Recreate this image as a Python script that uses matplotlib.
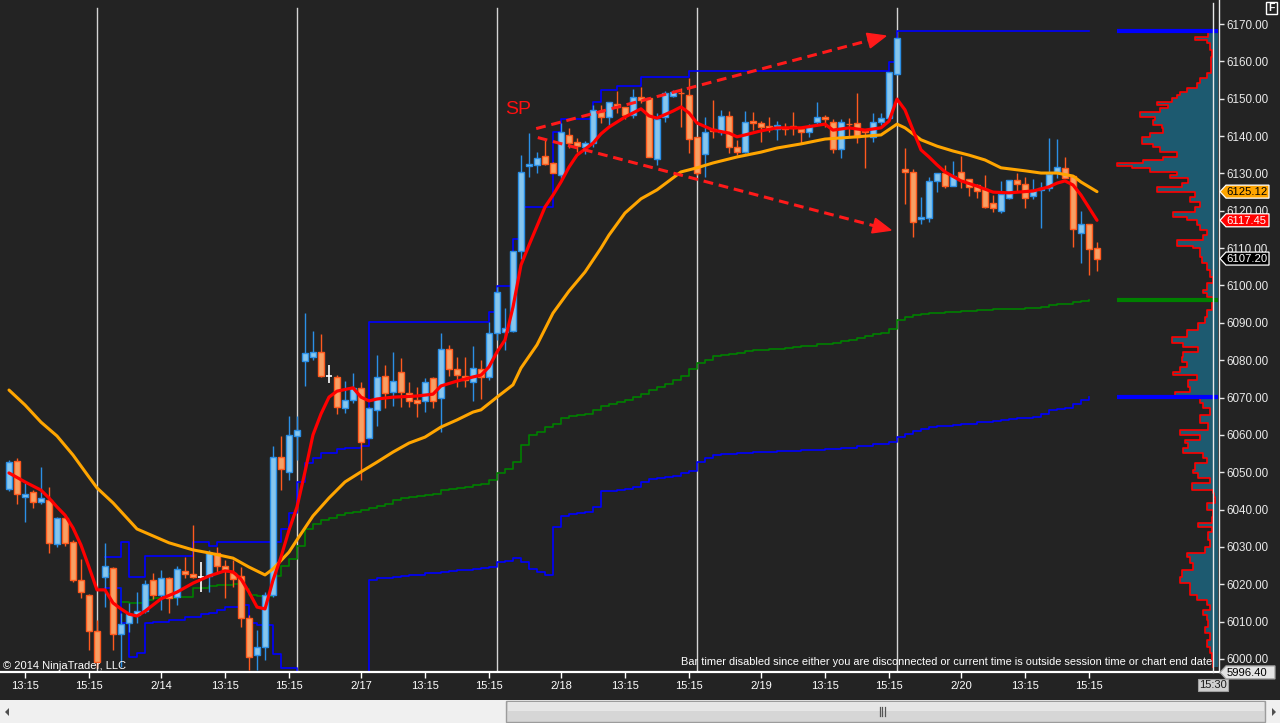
import numpy as np
import matplotlib
matplotlib.use('Agg')
import matplotlib.pyplot as plt
from matplotlib.patches import Polygon, Rectangle
from matplotlib.transforms import IdentityTransform

plt.rcParams['font.family'] = ['Liberation Sans', 'DejaVu Sans']

# ---------------- data ----------------
bars = list(range(-11, 126))
opens = [6045.4, 6053.1, 6043.3, 6044.8, 6041.9, 6042.6, 6030.7, 6037.7, 6031.2, 6021.1, 6017.1, 6007.6,
         6022.0, 6024.3, 6006.7, 6009.5, 6011.8, 6012.9, 6021.1, 6017.1, 6021.6, 6016.7, 6023.5, 6022.7,
         6022.0, 6022.2, 6028.3, 6025.0, 6023.1, 6022.2, 6010.9, 6001.1, 6003.1, 6017.1, 6054.0, 6050.1,
         6059.8, 6079.8, 6080.8, 6082.3, 6075.8, 6075.6, 6067.1, 6069.3, 6072.5, 6059.1, 6066.7, 6075.8,
         6071.6, 6076.9, 6071.3, 6069.3, 6069.1, 6075.1, 6069.8, 6082.9, 6077.6, 6075.8, 6074.1, 6077.6,
         6075.4, 6087.2, 6087.6, 6087.9, 6109.2, 6131.9, 6132.2, 6134.7, 6132.7, 6129.6, 6140.3, 6138.3,
         6137.0, 6138.1, 6146.5, 6145.0, 6148.6, 6147.7, 6145.6, 6150.5, 6150.1, 6133.8, 6145.0, 6150.7,
         6151.5, 6151.0, 6139.7, 6135.1, 6141.8, 6141.0, 6145.4, 6137.0, 6135.8, 6144.0, 6143.4, 6142.7,
         6141.9, 6142.1, 6142.7, 6141.9, 6141.0, 6143.8, 6145.0, 6143.7, 6136.5, 6143.2, 6143.4, 6141.4,
         6139.8, 6143.7, 6144.9, 6156.5, 6131.1, 6130.5, 6117.7, 6118.0, 6128.0, 6130.0, 6126.7, 6130.5,
         6128.4, 6126.9, 6125.8, 6122.0, 6120.0, 6123.5, 6128.2, 6127.3, 6124.0, 6125.6, 6126.0, 6130.3,
         6131.4, 6129.3, 6114.0, 6116.4, 6110.0]
highs = [6053.3, 6053.7, 6047.0, 6045.2, 6051.3, 6046.1, 6038.1, 6038.1, 6031.8, 6026.7, 6017.4, 6010.4,
         6031.0, 6024.7, 6012.2, 6014.9, 6018.0, 6021.1, 6023.1, 6023.8, 6022.0, 6024.9, 6027.4, 6036.0,
         6026.0, 6029.2, 6030.1, 6026.5, 6026.5, 6024.7, 6011.8, 6007.7, 6018.0, 6057.0, 6059.7, 6065.0,
         6065.0, 6092.5, 6087.8, 6086.9, 6078.7, 6076.0, 6074.4, 6076.6, 6074.2, 6067.5, 6081.4, 6078.7,
         6082.1, 6080.5, 6074.2, 6072.7, 6075.1, 6075.6, 6087.2, 6084.1, 6080.8, 6080.8, 6083.8, 6080.0,
         6090.3, 6099.7, 6093.9, 6109.2, 6134.9, 6140.7, 6135.6, 6138.9, 6133.1, 6143.4, 6142.1, 6139.4,
         6138.8, 6148.3, 6148.3, 6149.2, 6152.1, 6147.9, 6152.5, 6153.2, 6150.3, 6146.1, 6152.1, 6152.3,
         6152.8, 6155.5, 6139.8, 6145.2, 6149.7, 6147.0, 6146.7, 6138.9, 6146.7, 6146.4, 6144.0, 6145.0,
         6144.0, 6143.4, 6146.4, 6142.5, 6143.1, 6149.0, 6145.6, 6144.6, 6144.6, 6144.9, 6151.4, 6141.4,
         6146.1, 6146.1, 6157.1, 6166.3, 6136.7, 6131.2, 6123.6, 6129.1, 6130.0, 6132.2, 6133.3, 6134.7,
         6128.4, 6127.3, 6129.6, 6124.2, 6128.0, 6128.2, 6130.0, 6129.0, 6128.5, 6127.6, 6139.4, 6139.2,
         6134.3, 6129.6, 6119.9, 6116.4, 6111.7]
lows = [6045.0, 6041.4, 6036.8, 6040.3, 6041.4, 6028.3, 6030.1, 6030.2, 6020.7, 6016.2, 6002.4, 5997.6,
        6014.0, 6002.4, 5997.9, 6007.2, 6009.5, 6012.2, 6016.0, 6013.1, 6012.4, 6014.4, 6021.6, 6021.6,
        6018.0, 6018.0, 6023.4, 6016.2, 6019.3, 6008.6, 5997.0, 5997.0, 5999.7, 6016.7, 6045.2, 6047.9,
        6053.3, 6073.1, 6080.0, 6075.4, 6074.0, 6065.5, 6065.8, 6068.4, 6047.9, 6059.1, 6062.4, 6067.1,
        6067.7, 6067.5, 6067.5, 6064.9, 6066.2, 6067.1, 6060.8, 6075.8, 6072.7, 6072.7, 6069.1, 6069.5,
        6074.7, 6085.4, 6082.7, 6087.5, 6107.0, 6129.1, 6130.2, 6132.2, 6130.0, 6128.2, 6136.7, 6135.8,
        6135.2, 6137.1, 6143.6, 6143.0, 6146.1, 6144.5, 6144.8, 6148.8, 6134.3, 6132.2, 6143.8, 6150.5,
        6142.5, 6135.4, 6129.6, 6129.1, 6139.4, 6140.3, 6135.4, 6134.9, 6135.4, 6141.6, 6138.5, 6141.0,
        6138.9, 6140.3, 6140.3, 6137.8, 6139.8, 6143.1, 6142.5, 6135.4, 6134.0, 6139.8, 6138.1, 6131.5,
        6138.5, 6143.0, 6144.8, 6156.3, 6121.7, 6113.1, 6116.4, 6116.9, 6125.1, 6126.2, 6126.7, 6126.2,
        6124.0, 6123.5, 6120.7, 6119.7, 6119.3, 6123.1, 6125.1, 6120.8, 6123.1, 6115.5, 6125.4, 6128.8,
        6128.7, 6110.4, 6106.1, 6102.8, 6103.9]
closes = [6052.8, 6044.1, 6044.1, 6041.9, 6043.0, 6031.1, 6037.7, 6031.0, 6021.1, 6018.0, 6007.6, 5999.2,
          6025.0, 6006.7, 6009.3, 6012.0, 6012.9, 6020.0, 6017.1, 6021.6, 6016.2, 6024.0, 6022.7, 6022.0,
          6022.0, 6028.3, 6025.0, 6023.5, 6021.3, 6010.9, 6000.6, 6003.1, 6017.1, 6054.0, 6050.8, 6060.0,
          6061.3, 6081.8, 6082.3, 6075.8, 6075.8, 6067.4, 6069.3, 6072.5, 6058.2, 6067.1, 6075.6, 6071.1,
          6074.5, 6071.4, 6069.1, 6068.4, 6074.2, 6069.1, 6082.9, 6077.6, 6076.0, 6074.7, 6077.8, 6075.4,
          6087.2, 6098.2, 6088.5, 6109.2, 6130.3, 6132.5, 6134.0, 6132.4, 6130.0, 6141.2, 6138.1, 6137.3,
          6138.1, 6147.0, 6145.0, 6149.0, 6147.7, 6145.6, 6150.4, 6149.7, 6134.5, 6144.5, 6151.4, 6151.7,
          6151.4, 6139.1, 6130.2, 6141.2, 6141.4, 6145.4, 6137.0, 6135.8, 6143.7, 6143.6, 6142.5, 6141.9,
          6143.0, 6142.0, 6142.1, 6141.0, 6142.5, 6145.0, 6144.5, 6136.5, 6143.8, 6143.1, 6139.8, 6141.0,
          6143.8, 6144.9, 6157.1, 6166.2, 6130.3, 6117.1, 6118.4, 6128.0, 6130.0, 6126.7, 6129.4, 6128.2,
          6126.4, 6125.4, 6121.1, 6120.7, 6124.4, 6128.2, 6127.3, 6123.3, 6125.5, 6126.0, 6129.8, 6131.8,
          6128.8, 6115.0, 6116.4, 6109.7, 6107.2]

# fast (red) and slow (orange) moving averages, read at selected bars
fast_idx = [-11, -9, -7, -6, -5, -4, -3, -2, -1, 0, 1, 2, 3, 4, 5, 6, 8, 10, 12, 14, 16, 17, 18, 19, 20, 21,
            22, 23, 24, 25, 26, 27, 28, 29, 30, 32, 33, 34, 35, 37, 40, 42, 43, 45, 47, 48, 49, 50, 51, 52,
            53, 54, 55, 56, 57, 58, 59, 60, 61, 62, 63, 64, 66, 68, 69, 70, 72, 73, 74, 75, 77, 79, 80, 81,
            83, 85, 88, 91, 92, 94, 96, 98, 99, 100, 101, 102, 103, 104, 105, 106, 108, 110, 112, 114, 117,
            119, 120, 121, 122, 123, 125]
fast_val = [6049.8, 6047.4, 6045.2, 6043.1, 6040.7, 6038.5, 6035.1, 6030.5, 6024.6, 6018.5, 6018.5, 6015.0,
            6013.4, 6012.0, 6011.5, 6012.8, 6016.1, 6017.9, 6020.3, 6022.2, 6023.6, 6023.3, 6021.4, 6017.9,
            6013.9, 6013.4, 6021.1, 6027.3, 6034.5, 6040.7, 6050.1, 6060.0, 6065.6, 6070.1, 6071.7, 6072.6,
            6070.1, 6069.1, 6069.6, 6070.1, 6070.4, 6070.9, 6073.1, 6074.4, 6075.5, 6076.0, 6078.2, 6082.2,
            6085.4, 6094.2, 6105.5, 6110.8, 6115.9, 6121.0, 6124.2, 6127.7, 6131.7, 6134.9, 6136.5, 6138.1,
            6140.6, 6142.4, 6145.1, 6147.3, 6145.4, 6144.8, 6146.7, 6147.8, 6146.2, 6143.5, 6141.6, 6140.8,
            6139.8, 6140.3, 6141.4, 6142.2, 6142.2, 6143.2, 6141.6, 6142.2, 6141.6, 6142.2, 6144.0, 6149.9,
            6147.0, 6141.6, 6136.3, 6134.4, 6132.3, 6130.4, 6128.0, 6126.6, 6125.0, 6124.8, 6125.3, 6126.4,
            6127.4, 6128.0, 6126.9, 6124.2, 6117.45]
slow_idx = [-11, -9, -7, -5, -3, -1, 0, 2, 5, 9, 12, 14, 17, 19, 21, 22, 24, 25, 27, 29, 31, 33, 35, 37, 39,
            41, 43, 45, 47, 48, 50, 52, 53, 55, 57, 59, 61, 63, 64, 66, 68, 70, 72, 73, 75, 77, 80, 83, 85,
            88, 91, 93, 95, 98, 100, 101, 103, 105, 107, 109, 111, 113, 116, 118, 120, 122, 123, 125]
slow_val = [6072.0, 6068.0, 6063.4, 6059.7, 6054.6, 6048.7, 6045.8, 6041.8, 6034.8, 6031.1, 6029.2, 6028.4,
            6027.0, 6024.6, 6022.5, 6024.1, 6028.6, 6031.9, 6038.3, 6043.1, 6047.4, 6050.1, 6052.7, 6055.4,
            6057.8, 6059.4, 6062.1, 6064.0, 6066.1, 6066.7, 6070.1, 6073.4, 6077.9, 6084.1, 6092.6, 6098.5,
            6103.6, 6110.0, 6113.5, 6119.4, 6123.2, 6125.6, 6128.8, 6130.4, 6131.5, 6132.8, 6134.4, 6135.7,
            6136.8, 6137.9, 6139.2, 6139.5, 6139.8, 6140.3, 6143.2, 6142.2, 6139.0, 6137.3, 6136.0, 6134.9,
            6133.6, 6131.5, 6130.7, 6130.1, 6130.1, 6129.3, 6127.7, 6125.12]

# step indicator lines (bar where a new level starts, level)
upper_idx = [1, 3, 4, 6, 12, 14, 15, 23, 24, 25, 26, 27, 28, 30, 31, 33, 34, 49, 50, 52, 53, 57, 58, 62, 63,
             65, 68, 74, 99, 100, 124]
upper_val = [6027.2, 6031.4, 6022.0, 6027.6, 6031.2, 6030.2, 6031.4, 6034.7, 6039.0, 6047.5, 6052.4, 6053.7,
             6055.1, 6056.1, 6056.6, 6057.0, 6090.3, 6093.0, 6099.9, 6112.4, 6121.1, 6141.2, 6144.5, 6149.0,
             6152.3, 6153.4, 6155.7, 6157.3, 6159.8, 6168.1, 6168.1]
lower_idx = [1, 3, 4, 5, 6, 7, 9, 11, 13, 14, 15, 16, 18, 19, 20, 22, 23, 25, 34, 35, 36, 37, 38, 39, 41, 43,
             44, 45, 47, 48, 49, 50, 51, 52, 53, 54, 55, 56, 57, 58, 59, 60, 61, 62, 63, 65, 66, 67, 68, 69,
             70, 71, 72, 73, 74, 75, 76, 77, 78, 80, 82, 85, 88, 91, 93, 95, 97, 99, 100, 101, 102, 103, 104,
             105, 107, 108, 110, 112, 113, 114, 115, 117, 118, 119, 120, 121, 122, 123, 124]
lower_val = [6018.9, 6009.5, 6000.6, 6001.5, 6009.5, 6010.0, 6010.4, 6011.3, 6012.0, 6012.2, 6013.1, 6013.8,
             6014.5, 6009.5, 6009.1, 6001.3, 5997.7, 5990.0, 6021.1, 6021.6, 6021.8, 6022.0, 6022.3, 6022.6,
             6022.9, 6023.2, 6023.6, 6023.8, 6024.1, 6024.4, 6024.7, 6025.9, 6026.3, 6027.1, 6025.9, 6024.0,
             6023.2, 6022.5, 6035.4, 6038.4, 6038.7, 6039.0, 6039.3, 6040.6, 6045.0, 6045.2, 6045.4, 6046.0,
             6047.3, 6048.1, 6048.4, 6048.6, 6049.1, 6049.7, 6050.4, 6052.7, 6053.7, 6054.6, 6054.9, 6055.1,
             6055.3, 6055.6, 6055.9, 6056.1, 6056.4, 6056.9, 6057.5, 6058.0, 6059.4, 6060.2, 6061.1, 6061.6,
             6062.1, 6062.4, 6062.6, 6062.9, 6063.4, 6063.7, 6064.0, 6064.3, 6064.5, 6064.8, 6065.5, 6066.6,
             6066.9, 6067.2, 6068.3, 6069.3, 6070.1]
green_idx = [1, 2, 3, 4, 6, 7, 10, 12, 14, 15, 17, 18, 19, 20, 22, 23, 24, 25, 26, 27, 28, 29, 30, 31, 32, 33,
             34, 35, 36, 37, 38, 39, 40, 41, 42, 43, 44, 45, 46, 47, 48, 49, 50, 51, 52, 53, 54, 55, 56, 57,
             58, 59, 60, 61, 62, 63, 64, 65, 66, 67, 68, 69, 70, 71, 72, 73, 74, 75, 76, 77, 78, 79, 80, 81,
             82, 84, 86, 87, 88, 90, 92, 93, 94, 95, 96, 97, 98, 99, 100, 101, 102, 103, 104, 106, 108, 110,
             112, 116, 118, 119, 120, 122, 123, 124]
green_val = [6022.7, 6018.9, 6015.3, 6014.9, 6015.8, 6016.2, 6016.7, 6018.9, 6019.5, 6019.8, 6020.1, 6018.7,
             6017.1, 6016.9, 6022.2, 6025.0, 6026.7, 6030.2, 6034.7, 6036.1, 6037.2, 6037.8, 6038.5, 6039.0,
             6039.4, 6039.9, 6040.3, 6041.0, 6041.4, 6042.6, 6043.0, 6043.3, 6043.6, 6043.8, 6044.2, 6045.2,
             6045.4, 6045.7, 6046.0, 6046.5, 6046.8, 6047.9, 6049.7, 6050.8, 6052.7, 6057.3, 6059.9, 6060.7,
             6062.0, 6062.8, 6064.4, 6065.1, 6065.3, 6065.6, 6066.7, 6067.7, 6068.3, 6068.8, 6069.3, 6070.1,
             6070.9, 6072.0, 6072.8, 6073.6, 6074.7, 6075.8, 6077.6, 6079.2, 6080.0, 6081.0, 6081.3, 6081.6,
             6081.8, 6082.4, 6082.6, 6082.9, 6083.2, 6083.4, 6083.7, 6084.3, 6084.5, 6085.1, 6085.3, 6085.9,
             6086.4, 6086.9, 6087.2, 6088.3, 6090.7, 6091.5, 6092.0, 6092.3, 6092.5, 6092.8, 6093.1, 6093.4,
             6093.6, 6093.9, 6094.2, 6094.7, 6095.0, 6095.5, 6095.8, 6096.1]

# volume profile (price level, relative volume)
prof_price = [6167.8, 6166.5, 6165.7, 6164.8, 6163.0, 6161.2, 6159.5, 6156.8, 6155.5, 6154.1, 6153.0, 6151.9,
              6151.0, 6150.1, 6149.2, 6148.3, 6147.4, 6146.5, 6145.2, 6144.3, 6143.0, 6142.1, 6140.7, 6139.8,
              6138.0, 6137.1, 6135.8, 6134.5, 6133.6, 6132.7, 6132.1, 6131.4, 6130.5, 6129.6, 6128.7, 6127.4,
              6126.4, 6124.9, 6123.8, 6122.4, 6121.1, 6119.8, 6118.4, 6117.5, 6116.2, 6114.9, 6113.5, 6112.2,
              6110.6, 6109.9, 6107.7, 6105.9, 6104.1, 6102.4, 6100.6, 6098.8, 6097.9, 6097.0, 6095.2, 6093.4,
              6091.6, 6089.9, 6088.1, 6086.3, 6084.5, 6083.6, 6082.3, 6080.9, 6079.6, 6078.3, 6076.9, 6076.0,
              6074.7, 6072.9, 6071.6, 6070.2, 6068.4, 6067.1, 6065.3, 6063.1, 6061.3, 6059.9, 6058.6, 6057.7,
              6056.4, 6055.1, 6053.7, 6052.4, 6050.6, 6049.7, 6048.4, 6047.0, 6045.2, 6044.4, 6043.4, 6041.7,
              6039.9, 6038.1, 6036.3, 6035.3, 6034.1, 6031.9, 6030.1, 6028.3, 6027.4, 6025.6, 6023.8, 6022.0,
              6020.3, 6018.5, 6017.1, 6015.8, 6014.4, 6013.1, 6011.8, 6010.4, 6008.6, 6006.9, 6005.1, 6003.3,
              6001.5, 5999.7, 5997.9]
prof_vol = [2, 10, 23, 11, 8, 6, 7, 7, 11, 18, 21, 31, 38, 41, 46, 61, 50, 58, 78, 63, 65, 56, 55, 68, 76, 65,
            58, 41, 55, 75, 101, 86, 68, 41, 48, 30, 36, 61, 23, 28, 18, 23, 45, 31, 21, 18, 11, 15, 41, 25,
            18, 16, 11, 8, 5, 11, 15, 11, 6, 6, 11, 13, 20, 31, 46, 35, 20, 35, 36, 31, 38, 45, 21, 30, 28,
            43, 18, 15, 8, 18, 10, 38, 18, 33, 30, 35, 15, 11, 23, 25, 20, 8, 26, 5, 4, 3, 11, 5, 6, 20, 6,
            10, 8, 13, 31, 28, 25, 36, 38, 28, 28, 21, 11, 8, 15, 11, 10, 13, 8, 11, 8, 6, 5]

price_ticks = list(range(6000, 6171, 10))
time_tick_bars = [-9, -1, 8, 16, 24, 33, 41, 49, 58, 66, 74, 83, 91, 99, 108, 116, 124]
time_tick_labels = ['13:15', '15:15', '2/14', '13:15', '15:15', '2/17', '13:15', '15:15', '2/18',
                    '13:15', '15:15', '2/19', '13:15', '15:15', '2/20', '13:15', '15:15']
session_ends = [0, 25, 50, 75, 100]
arrow_from = [(54.9, 6142.0), (55.1, 6139.6)]
arrow_to = [(98.6, 6166.8), (99.25, 6114.8)]
cursor_price = 5996.40
cursor_time = '15:30'

# ---------------- figure ----------------
BG = '#232323'
W, H = 1280, 723
fig = plt.figure(figsize=(W / 100, H / 100), dpi=100, facecolor=BG)
ax = fig.add_axes([0, 51 / H, 1219 / W, 672 / H])
ax.set_facecolor(BG)
ax.set_xlim(-12.125, 140.25)
ax.set_ylim(5996.51, 6176.43)

for s in ['top', 'left']:
    ax.spines[s].set_visible(False)
ax.spines['right'].set_color('#e8e8e8')
ax.spines['right'].set_linewidth(1.0)
ax.spines['bottom'].set_color('#ffffff')
ax.spines['bottom'].set_linewidth(1.6)

ax.yaxis.tick_right()
ax.set_yticks(price_ticks)
ax.set_yticklabels([f'{v:.2f}' for v in price_ticks])
ax.tick_params(axis='y', direction='out', length=3.6, width=1, colors='#e8e8e8', labelsize=8.4, pad=1.4)
ax.set_xticks(time_tick_bars)
ax.set_xticklabels(time_tick_labels)
ax.tick_params(axis='x', direction='out', length=4.3, width=1, colors='#ffffff', labelsize=8, pad=2)

for k in session_ends:
    ax.axvline(k, ymin=0, ymax=1 - 8 / 672, color='#d4d4d4', lw=1.0, zorder=1)

# step indicator lines
ax.plot(green_idx, green_val, drawstyle='steps-post', color='#008000', lw=1.2, zorder=2)
ax.plot(lower_idx, lower_val, drawstyle='steps-post', color='#0000ff', lw=1.2, zorder=2)
ax.plot(upper_idx, upper_val, drawstyle='steps-post', color='#0000ff', lw=1.2, zorder=2)

# candles
b = np.array(bars)
o = np.array(opens); h = np.array(highs); l = np.array(lows); c = np.array(closes)
up = c > o
dn = c < o
dj = c == o
UP_FILL, UP_EDGE = '#86c6ee', '#2b8fe6'
DN_FILL, DN_EDGE = '#f7a064', '#ff5a1e'
bw = 0.68
ax.vlines(b[up], l[up], h[up], color=UP_EDGE, lw=1.0, zorder=3)
ax.vlines(b[dn], l[dn], h[dn], color=DN_EDGE, lw=1.0, zorder=3)
ax.vlines(b[dj], l[dj], h[dj], color='#ffffff', lw=1.2, zorder=3)
ax.bar(b[up], (c - o)[up], bottom=o[up], width=bw, color=UP_FILL, edgecolor=UP_EDGE, lw=1.0, zorder=4)
ax.bar(b[dn], (c - o)[dn], bottom=o[dn], width=bw, color=DN_FILL, edgecolor=DN_EDGE, lw=1.0, zorder=4)
ax.hlines(o[dj], b[dj] - bw / 2, b[dj] + bw / 2, color='#ffffff', lw=1.2, zorder=4)

# moving averages
ax.plot(slow_idx, slow_val, color='#ffa500', lw=2.2, zorder=5, solid_capstyle='round')
ax.plot(fast_idx, fast_val, color='#ff0000', lw=2.3, zorder=6, solid_capstyle='round')

# dashed arrows
for (x0, y0), (x1, y1) in zip(arrow_from, arrow_to):
    p0 = ax.transData.transform((x0, y0))
    p1 = ax.transData.transform((x1, y1))
    d = p1 - p0
    u = d / np.hypot(*d)
    n = np.array([-u[1], u[0]])
    base = p1 - 18 * u
    lb = ax.transData.inverted().transform(base)
    ax.plot([x0, lb[0]], [y0, lb[1]], color='#ff1a1a', lw=2.2, dashes=(3.2, 1.9), zorder=7)
    head = Polygon([p1, base + 7.5 * n, base - 7.5 * n], closed=True, facecolor='#ff1a1a',
                   edgecolor='#ff1a1a', transform=IdentityTransform(), zorder=8)
    ax.add_patch(head)
    head.set_clip_on(False)

ax.text(51.0, 6147.2, 'SP', color='#ff1010', fontsize=14, ha='left', va='center', zorder=8)

# volume profile
axp = fig.add_axes([1100 / W, 51 / H, 118 / W, 672 / H])
axp.patch.set_alpha(0)
axp.axis('off')
axp.set_xlim(118, 0)
axp.set_ylim(ax.get_ylim())
axp.fill_betweenx(prof_price, 0, prof_vol, step='pre', color='#1d5a70', lw=0)
axp.plot(prof_vol, prof_price, drawstyle='steps-post', color='#ff0000', lw=1.2)
vmax = max(prof_vol)
axp.hlines(upper_val[-1], 0, vmax, color='#0000ff', lw=3)
axp.hlines(lower_val[-1], 0, vmax, color='#0000ff', lw=3)
axp.hlines(green_val[-1], 0, vmax, color='#008000', lw=3)

# ---------------- overlay (chrome) ----------------
ov = fig.add_axes([0, 0, 1, 1], zorder=10)
ov.set_xlim(0, W)
ov.set_ylim(H, 0)
ov.axis('off')
ov.patch.set_alpha(0)


def py(price):
    return H - ax.transData.transform((0, price))[1]


ov.plot([1213, 1213], [3, 672], color='#e8e8e8', lw=1.0)


def tag(price, text, fc, tc, x1=1269, ec='#ffffff'):
    y = py(price)
    poly = Polygon([(1220, y), (1226, y - 6.5), (x1, y - 6.5), (x1, y + 6.5), (1226, y + 6.5)],
                   closed=True, facecolor=fc, edgecolor=ec, lw=0.9)
    ov.add_patch(poly)
    ov.text(1226.5, y + 0.5, text, color=tc, fontsize=8.1, ha='left', va='center')


tag(slow_val[-1], f'{slow_val[-1]:.2f}', '#ffa500', '#000000')
tag(fast_val[-1], f'{fast_val[-1]:.2f}', '#ff0000', '#ffffff')
tag(closes[-1], f'{closes[-1]:.2f}', '#000000', '#ffffff')
tag(cursor_price, f'{cursor_price:.2f}', '#e4e4e4', '#000000', x1=1275, ec='#a0a0a0')

# time cursor label
ov.add_patch(Rectangle((1198, 679), 30, 12, facecolor='#cfcfcf', edgecolor='#a0a0a0', lw=0.8))
ov.text(1213, 685.5, cursor_time, color='#1a1a1a', fontsize=8, ha='center', va='center')

# F box
ov.add_patch(Rectangle((1266, 1.5), 11, 12, facecolor='none', edgecolor='#ffffff', lw=1.0))
ov.text(1271.5, 8, 'F', color='#ffffff', fontsize=7.5, fontweight='bold', ha='center', va='center')

ov.text(3, 666, '\u00a9 2014 NinjaTrader, LLC', color='#ffffff', fontsize=8, ha='left', va='center')
ov.text(1212, 662, 'Bar timer disabled since either you are disconnected or current time is outside '
        'session time or chart end date', color='#ffffff', fontsize=7.9, ha='right', va='center')

# scrollbar
ov.add_patch(Rectangle((0, 700), W, 23, facecolor='#f0f0f0', edgecolor='none'))
ov.add_patch(Rectangle((506, 701), 759, 21, facecolor='#d6d6d6', edgecolor='#9c9c9c', lw=1))
ov.add_patch(Rectangle((507.5, 702), 756, 9, facecolor='#e6e6e6', edgecolor='none'))
for gx in (879.5, 882, 884.5):
    ov.plot([gx, gx], [707, 716], color='#555555', lw=0.9)
ov.add_patch(Polygon([(5, 712), (9, 708), (9, 716)], closed=True, facecolor='#505050', edgecolor='none'))
ov.add_patch(Polygon([(1276, 712), (1272, 708), (1272, 716)], closed=True, facecolor='#505050',
                     edgecolor='none'))

fig.savefig('out.png', dpi=100, facecolor=BG)
